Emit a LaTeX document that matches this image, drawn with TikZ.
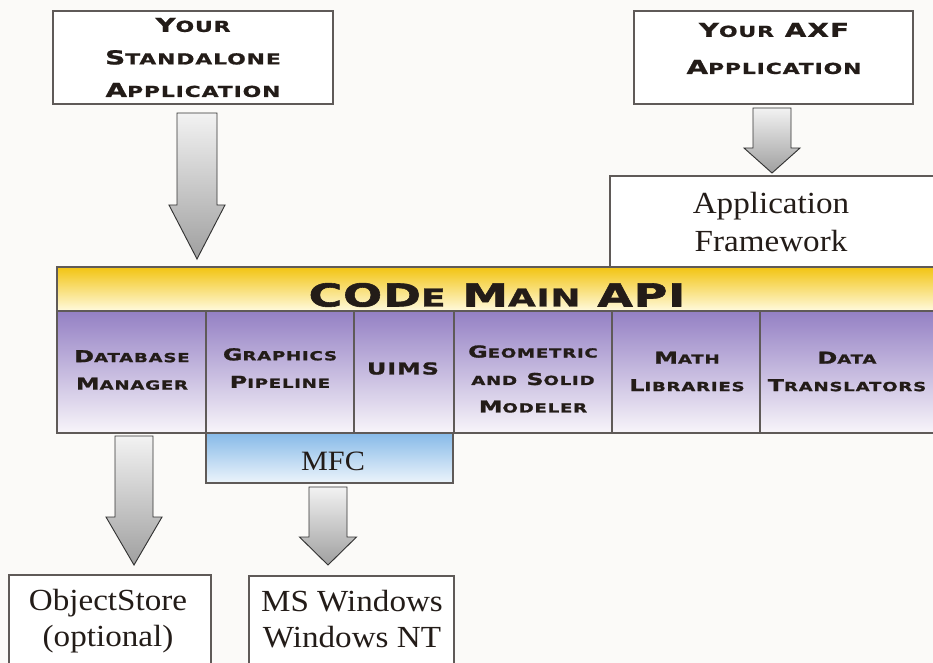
\documentclass[tikz,border=0pt]{standalone}
\usepackage{fontspec}
\setmainfont{Liberation Serif}[FakeStretch=1.08]
\newfontfamily\copfont{DejaVu Sans}[UprightFont=* Bold,FakeStretch=1.45,LetterSpace=6,FakeBold=1.2]
\newfontfamily\apifont{DejaVu Sans}[UprightFont=* Bold,FakeStretch=1.45,LetterSpace=3,FakeBold=1.8]
\newcommand\tsc[2]{{\fontsize{14.4}{24}\selectfont #1}{\fontsize{11.3}{24}\selectfont #2}}
\newcommand\msc[2]{{\fontsize{12.3}{20}\selectfont #1}{\fontsize{9.4}{20}\selectfont #2}}
\newcommand\asc[2]{{\fontsize{23.7}{28}\selectfont #1}{\fontsize{18.5}{28}\selectfont #2}}
\definecolor{bg}{RGB}{251,250,248}
\definecolor{ink}{RGB}{35,28,24}
\definecolor{frame}{RGB}{95,90,88}
\definecolor{ytop}{RGB}{242,196,18}
\definecolor{ybot}{RGB}{255,250,222}
\definecolor{ptop}{RGB}{148,128,196}
\definecolor{pmid}{RGB}{196,182,224}
\definecolor{pbot}{RGB}{248,245,250}
\definecolor{btop}{RGB}{135,186,232}
\definecolor{bbot}{RGB}{236,244,251}
\tikzset{
  boxline/.style={draw=frame,line width=0.9pt},
  captext/.style={font=\copfont\color{ink},align=center,inner sep=0pt},
  sertext/.style={font=\color{ink},align=center,inner sep=0pt},
  arrowstyle/.style={top color=gray!10,bottom color=gray!75,draw=gray!40!black,line width=0.7pt,line join=miter},
}
\newcommand\blockarrow[6]{%
  \path[arrowstyle] (#1-#4,#2) -- (#1+#4,#2) -- (#1+#4,#6) -- (#1+#5,#6) -- (#1,#3) -- (#1-#5,#6) -- (#1-#4,#6) -- cycle;}
\begin{document}
\begin{tikzpicture}[x=0.75pt,y=-0.75pt]
\clip (0,0) rectangle (933,663);
\fill[bg] (0,0) rectangle (933,663);
% top boxes
\draw[boxline,fill=white] (53,11) rectangle (333,104);
\node[captext,font=\copfont\color{ink}\fontsize{14.4}{24.4}\selectfont] (std) at (193,57.5)
  {\tsc{Y}{OUR}\\\tsc{S}{TANDALONE}\\\tsc{A}{PPLICATION}};
\draw[boxline,fill=white] (634,11) rectangle (913,104);
\node[captext,font=\copfont\color{ink}\fontsize{14.4}{27.8}\selectfont] (axf) at (774,48.5)
  {\tsc{Y}{OUR} \tsc{AXF}{}\\\tsc{A}{PPLICATION}};
% application framework
\draw[boxline,fill=white] (610,176) rectangle (940,267);
\node[sertext,font=\color{ink}\fontsize{23}{29.2}\selectfont] (af) at (771,222) {Application\\Framework};
% API bar
\shade[top color=ytop,bottom color=ybot] (57,267) rectangle (940,311);
\draw[boxline] (57,267) rectangle (940,311);
\node[font=\apifont\color{ink}\fontsize{23.7}{28}\selectfont,anchor=base,inner sep=0pt] (api) at (497,306.5)
  {\asc{COD}{E} \asc{M}{AIN} \asc{API}{}};
% module row
\shade[top color=ptop,middle color=pmid,bottom color=pbot] (57,311) rectangle (940,433);
\draw[boxline] (57,311) rectangle (940,433);
\foreach \xx in {206,354,454,612,760} \draw[boxline] (\xx,311) -- (\xx,433);
\node[captext,font=\copfont\color{ink}\fontsize{12.3}{20.6}\selectfont] (db) at (132,370) {\msc{D}{ATABASE}\\\msc{M}{ANAGER}};
\node[captext,font=\copfont\color{ink}\fontsize{12.3}{20.6}\selectfont] (gp) at (280,368) {\msc{G}{RAPHICS}\\\msc{P}{IPELINE}};
\node[captext,font=\copfont\color{ink}\fontsize{12.3}{20.6}\selectfont] (uims) at (403,368.5) {\msc{UIMS}{}};
\node[captext,font=\copfont\color{ink}\fontsize{12.3}{20.6}\selectfont] (geo) at (533,379) {\msc{G}{EOMETRIC}\\\msc{}{AND} \msc{S}{OLID}\\\msc{M}{ODELER}};
\node[captext,font=\copfont\color{ink}\fontsize{12.3}{20.6}\selectfont] (math) at (687,371.5) {\msc{M}{ATH}\\\msc{L}{IBRARIES}};
\node[captext,font=\copfont\color{ink}\fontsize{12.3}{20.6}\selectfont] (dt) at (847,371.5) {\msc{D}{ATA}\\\msc{T}{RANSLATORS}};
% MFC
\shade[top color=btop,bottom color=bbot] (206,433) rectangle (453,483);
\draw[boxline] (206,433) rectangle (453,483);
\node[sertext,font=\color{ink}\fontsize{21}{24}\selectfont,anchor=base] (mfc) at (333,470) {MFC};
% bottom boxes
\draw[boxline,fill=white] (9,575) rectangle (211,680);
\node[sertext,font=\color{ink}\fontsize{23}{27}\selectfont] (os) at (108,621) {ObjectStore\\(optional)};
\draw[boxline,fill=white] (249,576) rectangle (454,680);
\node[sertext,font=\color{ink}\fontsize{23}{27}\selectfont] (msw) at (352,619) {MS Windows\\Windows NT};
% block arrows
\blockarrow{197}{113}{259}{20}{28}{205}
\blockarrow{772}{108}{173}{19}{28}{148}
\blockarrow{134}{436}{565}{19}{28}{517}
\blockarrow{328}{487}{565}{19}{28.5}{537}
\end{tikzpicture}
\end{document}
